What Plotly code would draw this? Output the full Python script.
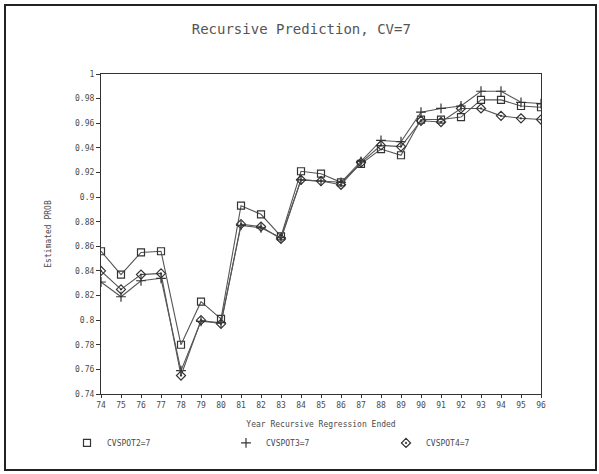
import plotly.graph_objects as go

years = list(range(74, 97))
year_labels = [str(y) for y in years]

cvspot2 = [0.856, 0.837, 0.855, 0.856, 0.780, 0.815, 0.801, 0.893, 0.886, 0.868, 0.921, 0.919,
           0.912, 0.927, 0.939, 0.934, 0.963, 0.963, 0.965, 0.979, 0.979, 0.974, 0.973]
cvspot3 = [0.831, 0.819, 0.832, 0.834, 0.759, 0.799, 0.798, 0.877, 0.875, 0.867, 0.914, 0.913,
           0.912, 0.929, 0.946, 0.945, 0.969, 0.972, 0.974, 0.986, 0.986, 0.977, 0.976]
cvspot4 = [0.840, 0.825, 0.837, 0.838, 0.755, 0.800, 0.797, 0.878, 0.876, 0.866, 0.914, 0.913,
           0.910, 0.928, 0.942, 0.941, 0.962, 0.961, 0.972, 0.972, 0.966, 0.964, 0.963]

series_names = ["CVSPOT2=7", "CVSPOT3=7", "CVSPOT4=7"]
series_symbols = ["square-open", "cross-thin", "diamond-open-dot"]

y_ticks = [0.74, 0.76, 0.78, 0.8, 0.82, 0.84, 0.86, 0.88, 0.9, 0.92, 0.94, 0.96, 0.98, 1.0]
y_tick_labels = ["0.74", "0.76", "0.78", "0.8", "0.82", "0.84", "0.86", "0.88", "0.9",
                 "0.92", "0.94", "0.96", "0.98", "1"]

GRAY = "#4a4a4a"
FONT = "DejaVu Sans Mono"
legend_ids = ["legend", "legend2", "legend3"]
legend_px = [67, 226, 386]  # left edge of each legend box, in pixels

fig = go.Figure()
for vals, name, sym, lg in zip([cvspot2, cvspot3, cvspot4], series_names, series_symbols, legend_ids):
    fig.add_trace(go.Scatter(
        x=years, y=vals, mode="lines+markers", name=name, showlegend=False,
        line=dict(color="#555555", width=1.1),
        marker=dict(symbol=sym, size=7, color="#333333", line=dict(color="#333333", width=1.2)),
    ))
    # legend entry (marker only)
    fig.add_trace(go.Scatter(
        x=[None], y=[None], mode="markers", name=name, legend=lg,
        marker=dict(symbol=sym, size=7, color="#333333", line=dict(color="#333333", width=1.2)),
    ))

legend_common = dict(y=-0.153, yanchor="middle", xanchor="left", orientation="h",
                     font=dict(family=FONT, size=8, color=GRAY), bgcolor="rgba(0,0,0,0)",
                     itemwidth=30)

fig.update_layout(
    width=599, height=474,
    margin=dict(l=101, r=58, t=74, b=80),
    paper_bgcolor="white", plot_bgcolor="white",
    title=dict(text="Recursive Prediction, CV=7", x=0.503, xanchor="center",
               y=1 - 29 / 474, yanchor="middle",
               font=dict(family=FONT, size=14, color="#555555")),
    font=dict(family=FONT, size=8, color=GRAY),
    xaxis=dict(
        range=[74, 96], tickmode="array", tickvals=years, ticktext=year_labels,
        showgrid=False, zeroline=False, showline=True, linecolor="#333333", linewidth=1.2,
        mirror=True, ticks="outside", ticklen=3, tickcolor="#333333",
        tickfont=dict(family=FONT, size=8, color=GRAY),
        title=dict(text="Year Recursive Regression Ended", standoff=12,
                   font=dict(family=FONT, size=8, color=GRAY)),
    ),
    yaxis=dict(
        range=[0.74, 1.0], tickmode="array", tickvals=y_ticks, ticktext=y_tick_labels,
        showgrid=False, zeroline=False, showline=True, linecolor="#333333", linewidth=1.2,
        mirror=True, ticks="outside", ticklen=4, tickcolor="#333333",
        tickfont=dict(family=FONT, size=8, color=GRAY),
        title=dict(text="Estimated PROB", standoff=22,
                   font=dict(family=FONT, size=8, color=GRAY)),
    ),
    legend=dict(x=(legend_px[0] - 101) / 440, **legend_common),
    legend2=dict(x=(legend_px[1] - 101) / 440, **legend_common),
    legend3=dict(x=(legend_px[2] - 101) / 440, **legend_common),
    showlegend=True,
)

# outer frame around the whole picture
fig.add_shape(type="rect", xref="paper", yref="paper",
              x0=(5 - 101) / 440, x1=(596 - 101) / 440,
              y0=(394 - 470) / 320, y1=(394 - 5) / 320,
              line=dict(color="#222222", width=2), fillcolor="rgba(0,0,0,0)", layer="below")

fig.write_html("out.html")
